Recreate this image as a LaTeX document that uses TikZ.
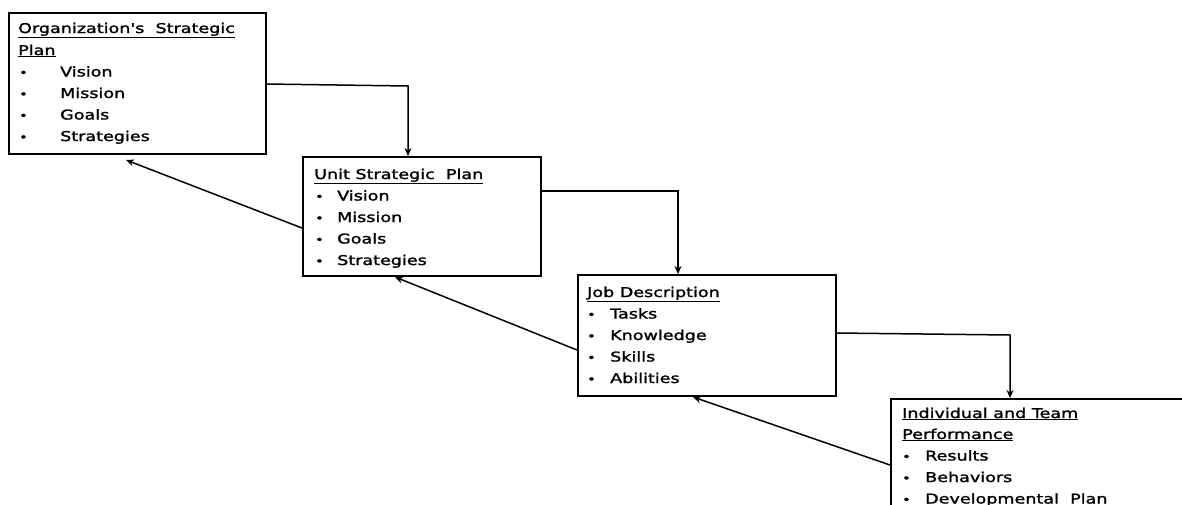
\documentclass[tikz,border=0pt]{standalone}
\usepackage{fontspec}
\usetikzlibrary{arrows.meta,calc}
\newfontfamily\dvf[FakeStretch=1.3,FakeBold=1.6]{DejaVu Sans}
\newcommand{\ul}[1]{\underline{#1}}
\begin{document}
\begin{tikzpicture}[x=1pt,y=-1pt,
  box/.style={draw=black,line width=1.6pt,rectangle,anchor=north west,inner sep=0pt},
  txt/.style={anchor=base west,inner sep=0pt,font=\dvf\fontsize{13.5}{16}\selectfont},
  bul/.style={anchor=base west,inner sep=0pt,font=\dvf\fontsize{11}{11}\selectfont},
  arr/.style={draw=black,line width=1.5pt,-{Stealth[length=8pt,width=7pt]}}]
\useasboundingbox (0,0) rectangle (1182,504);
\clip (0,0) rectangle (1182,504);
% boxes
\node[box,minimum width=257pt,minimum height=141pt] (b1) at (8,12) {};
\node[box,minimum width=238pt,minimum height=119pt] (b2) at (302,156) {};
\node[box,minimum width=258pt,minimum height=121pt] (b3) at (577,274) {};
\node[box,minimum width=330pt,minimum height=140pt] (b4) at (890,398) {};
% box 1 text
\node[txt] (b1h1) at (18,33) {\ul{Organization's\ \ Strategic}};
\node[txt] (b1h2) at (18,55) {\ul{Plan}};
\foreach \t [count=\i] in {Vision,Mission,Goals,Strategies}{
  \node[bul] (b1b\i) at (19,55+21.5*\i) {\textbullet};
  \node[txt] (b1l\i) at (60,55+21.5*\i) {\t};
}
% box 2 text
\node[txt] (b2h1) at (314,179) {\ul{Unit Strategic\ \ Plan}};
\foreach \t [count=\i] in {Vision,Mission,Goals,Strategies}{
  \node[bul] (b2b\i) at (315,179+21.5*\i) {\textbullet};
  \node[txt] (b2l\i) at (337,179+21.5*\i) {\t};
}
% box 3 text
\node[txt] (b3h1) at (587,297) {\ul{Job Description}};
\foreach \t [count=\i] in {Tasks,Knowledge,Skills,Abilities}{
  \node[bul] (b3b\i) at (587,297+21.5*\i) {\textbullet};
  \node[txt] (b3l\i) at (610,297+21.5*\i) {\t};
}
% box 4 text
\node[txt] (b4h1) at (902,418) {\ul{Individual and Team}};
\node[txt] (b4h2) at (902,439) {\ul{Performance}};
\foreach \t [count=\i] in {Results,Behaviors,{Developmental\ \ Plan}}{
  \node[bul] (b4b\i) at (902,439+21.5*\i) {\textbullet};
  \node[txt] (b4l\i) at (925,439+21.5*\i) {\t};
}
% helper coordinates
\coordinate (s1) at (265,84);
\coordinate (k1) at (408,86);
\coordinate (k2) at (678,191);
\coordinate (s3) at (835,333);
\coordinate (k3) at (1010,335);
\coordinate (r2) at (302,228);
\coordinate (t1) at (126,160);
\coordinate (r3) at (577,350);
\coordinate (t2) at (395,277);
\coordinate (r4) at (890,465);
\coordinate (t3) at (693,397);
% forward connectors
\draw[arr] (b1.east |- s1) -- (k1) -- (k1 |- b2.north);
\draw[arr] (b2.east |- k2) -| (k2 |- b3.north);
\draw[arr] (b3.east |- s3) -- (k3) -- (k3 |- b4.north);
% back connectors
\draw[arr] (b2.west |- r2) -- (t1);
\draw[arr] (b3.west |- r3) -- (t2);
\draw[arr] (b4.west |- r4) -- (t3);
\end{tikzpicture}
\end{document}
